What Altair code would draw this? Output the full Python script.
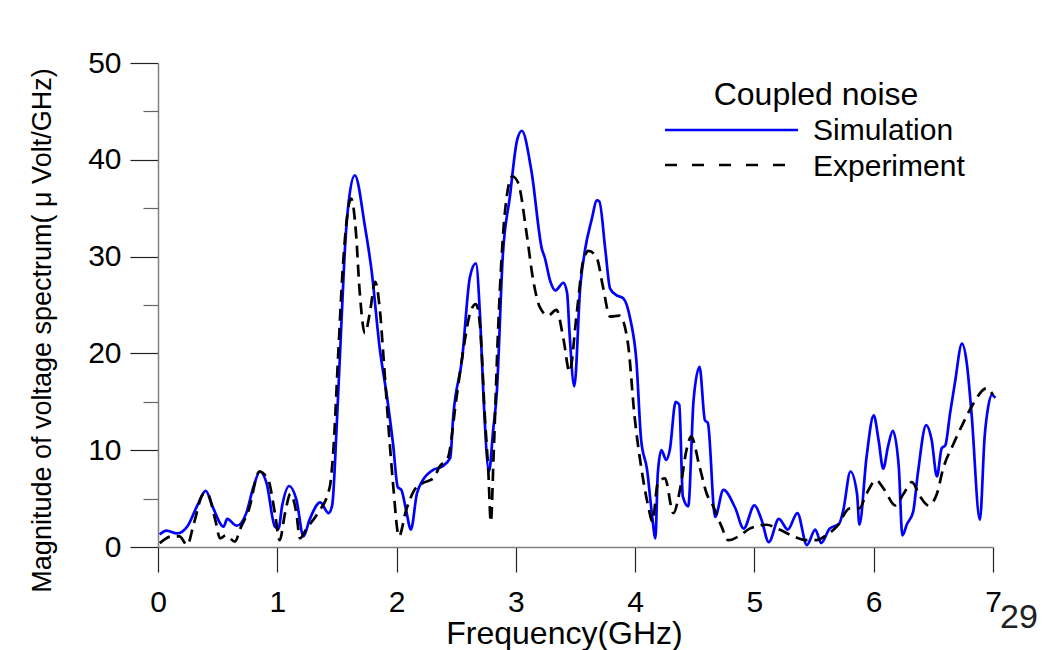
import altair as alt
import pandas as pd

FONT = "Liberation Sans"

# ---- data ----
sim_freq = [0.015, 0.07, 0.16, 0.25, 0.33, 0.40, 0.46, 0.55, 0.58, 0.66, 0.74, 0.80, 0.855, 0.91,
            0.98, 1.01, 1.04, 1.10, 1.16, 1.22, 1.27, 1.36, 1.43, 1.46, 1.50, 1.54, 1.57, 1.60,
            1.65, 1.735, 1.79, 1.86, 1.92, 1.97, 2.01, 2.04, 2.08, 2.12, 2.17, 2.22, 2.31, 2.38,
            2.45, 2.475, 2.55, 2.615, 2.665, 2.70, 2.73, 2.775, 2.81, 2.84, 2.89, 2.95, 3.01,
            3.05, 3.13, 3.22, 3.24, 3.29, 3.33, 3.40, 3.43, 3.45, 3.49, 3.54, 3.58, 3.635, 3.68,
            3.70, 3.75, 3.79, 3.845, 3.90, 3.96, 4.01, 4.05, 4.10, 4.14, 4.17, 4.19, 4.22, 4.26,
            4.29, 4.34, 4.37, 4.40, 4.445, 4.49, 4.54, 4.585, 4.61, 4.67, 4.74, 4.84, 4.91, 5.00,
            5.06, 5.12, 5.205, 5.28, 5.36, 5.44, 5.51, 5.56, 5.63, 5.71, 5.745, 5.805, 5.86, 5.88,
            5.94, 6.00, 6.04, 6.08, 6.12, 6.16, 6.21, 6.24, 6.28, 6.33, 6.37, 6.44, 6.485, 6.53,
            6.57, 6.60, 6.64, 6.68, 6.74, 6.78, 6.82, 6.89, 6.93, 6.96, 6.99, 7.02]
sim_mag = [1.3, 1.7, 1.4, 2.2, 4.3, 5.8, 4.1, 2.1, 2.9, 2.2, 3.5, 6.2, 7.8, 6.6,
           2.1, 1.9, 4.2, 6.3, 4.9, 1.1, 2.8, 4.6, 3.5, 4.3, 13.0, 23.8, 31.4, 35.8,
           38.4, 33.1, 28.6, 20.4, 15.5, 10.7, 6.2, 5.9, 3.8, 1.8, 5.5, 6.9, 8.0, 8.3,
           9.2, 13.5, 19.5, 27.9, 29.3, 23.8, 15.2, 7.8, 12.1, 15.9, 30.0, 36.2, 42.0,
           43.0, 38.9, 30.7, 30.0, 27.4, 26.5, 27.3, 26.2, 22.1, 16.6, 26.9, 30.7, 33.8, 35.8,
           35.7, 30.7, 26.7, 26.0, 25.7, 23.5, 19.3, 11.1, 8.0, 3.5, 0.9, 7.6, 10.0, 9.0,
           10.0, 15.0, 14.7, 5.2, 4.2, 15.2, 18.6, 13.1, 12.8, 3.1, 5.9, 4.0, 1.9, 4.3,
           2.8, 0.5, 2.9, 1.8, 3.5, 0.2, 1.8, 0.4, 1.9, 2.4, 3.8, 7.8, 5.5, 2.3,
           9.3, 13.6, 11.1, 8.1, 10.4, 12.0, 8.3, 1.2, 2.4, 3.6, 7.6, 12.6, 11.1, 7.3,
           10.2, 10.5, 13.8, 16.9, 21.0, 19.0, 13.8, 2.8, 11.4, 14.5, 15.7, 15.4]

exp_freq = [0.015, 0.115, 0.18, 0.245, 0.30, 0.38, 0.41, 0.48, 0.52, 0.57, 0.645, 0.69, 0.76,
            0.85, 0.925, 0.98, 1.02, 1.065, 1.11, 1.16, 1.19, 1.245, 1.34, 1.44, 1.47, 1.51,
            1.55, 1.62, 1.66, 1.69, 1.735, 1.78, 1.82, 1.86, 1.89, 1.93, 1.97, 2.02, 2.08,
            2.15, 2.22, 2.31, 2.36, 2.43, 2.50, 2.56, 2.615, 2.665, 2.70, 2.74, 2.77, 2.79,
            2.815, 2.85, 2.91, 2.97, 3.02, 3.09, 3.145, 3.20, 3.27, 3.34, 3.40, 3.45, 3.51,
            3.565, 3.61, 3.68, 3.73, 3.79, 3.87, 3.94, 3.995, 4.05, 4.11, 4.145, 4.19, 4.25,
            4.32, 4.38, 4.43, 4.47, 4.54, 4.60, 4.655, 4.725, 4.78, 4.88, 4.96, 5.10, 5.21,
            5.33, 5.44, 5.52, 5.60, 5.69, 5.80, 5.88, 5.94, 6.02, 6.09, 6.18, 6.25, 6.32,
            6.39, 6.46, 6.53, 6.58, 6.67, 6.75, 6.83, 6.945, 7.0]
exp_mag = [0.4, 1.1, 1.1, 0.2, 2.4, 5.5, 5.6, 2.8, 0.9, 1.2, 0.55, 1.9, 3.8,
           7.8, 6.9, 3.5, 0.7, 3.5, 5.5, 3.5, 0.9, 1.9, 3.5, 6.2, 10.0, 19.7,
           29.0, 36.0, 32.4, 26.5, 22.1, 24.5, 27.4, 24.5, 19.7, 12.8, 6.6, 1.1, 3.8,
           5.9, 6.6, 7.1, 8.3, 9.2, 15.2, 20.4, 24.1, 25.1, 22.8, 13.5, 7.6, 2.6,
           10.0, 22.1, 34.8, 38.3, 37.6, 32.4, 27.6, 24.8, 23.9, 24.5, 21.4, 18.1, 24.1,
           29.6, 30.6, 29.8, 26.9, 23.8, 23.9, 21.0, 13.5, 8.3, 4.2, 2.6, 6.6, 7.1,
           3.5, 6.2, 10.0, 11.4, 8.3, 5.5, 4.2, 2.1, 0.7, 1.2, 1.9, 2.3, 1.8,
           1.1, 0.7, 0.7, 1.2, 2.1, 4.0, 4.0, 5.5, 6.9, 5.9, 4.3, 5.5, 6.7,
           5.2, 4.3, 5.5, 8.0, 10.7, 12.8, 14.7, 16.4, 15.7]

x_ticks = [0, 1, 2, 3, 4, 5, 6, 7]
y_major = [0, 10, 20, 30, 40, 50]
y_minor = [5, 15, 25, 35, 45]

series_names = ["Simulation", "Experiment"]
legend_title = "Coupled noise"
x_title = "Frequency(GHz)"
y_title = "Magnitude of voltage spectrum( \u03bc Volt/GHz)"
page_number = "29"

sim_df = pd.DataFrame({"f": sim_freq, "v": sim_mag})
exp_df = pd.DataFrame({"f": exp_freq, "v": exp_mag})
one = pd.DataFrame({"k": [0]})

x_scale = alt.Scale(domain=[0, 7], nice=False, zero=False)
y_scale = alt.Scale(domain=[0, 50], nice=False)

x_axis = alt.Axis(values=x_ticks, title=x_title, titleFont=FONT, titleFontSize=32,
                  titleFontWeight="normal", titleColor="black", titleX=406, titleY=96,
                  titleAlign="center", titleBaseline="alphabetic",
                  labelFont=FONT, labelFontSize=30, labelColor="black", labelPadding=39,
                  labelBaseline="alphabetic", labelFlush=False,
                  tickSize=25, tickColor="#222222", tickWidth=1.2,
                  domainColor="#808080", domainWidth=1.5, grid=False)

y_axis_major = alt.Axis(values=y_major, orient="left", title=y_title, titleFont=FONT,
                        titleFontSize=27, titleFontWeight="normal", titleColor="black",
                        titleX=-102, titleY=267, titleAngle=270, titleAlign="center",
                        titleBaseline="bottom",
                        labelFont=FONT, labelFontSize=30, labelColor="black", labelPadding=9,
                        labelFlush=False, tickSize=28, tickColor="#222222", tickWidth=1.2,
                        domainColor="#808080", domainWidth=1.5, grid=False)

y_axis_minor = alt.Axis(values=y_minor, orient="left", title=None, labels=False,
                        tickSize=15, tickColor="#666666", tickWidth=1.2, domain=False,
                        grid=False)

sim_line = alt.Chart(sim_df).mark_line(color="#0000FF", strokeWidth=2.7,
                                       interpolate="monotone").encode(
    x=alt.X("f:Q", scale=x_scale, axis=x_axis),
    y=alt.Y("v:Q", scale=y_scale, axis=y_axis_major),
)

exp_line = alt.Chart(exp_df).mark_line(color="black", strokeWidth=2.7, strokeDash=[12, 7],
                                       interpolate="monotone").encode(
    x=alt.X("f:Q", scale=x_scale, axis=x_axis),
    y=alt.Y("v:Q", scale=y_scale, axis=y_axis_minor),
)

leg_title = alt.Chart(one).mark_text(text=legend_title, font=FONT, fontSize=32, align="center",
                                     baseline="alphabetic", color="black").encode(
    x=alt.value(658), y=alt.value(42))
leg_sim_line = alt.Chart(one).mark_rule(color="#0000FF", strokeWidth=2.7).encode(
    x=alt.value(507), x2=alt.value(640), y=alt.value(67))
leg_exp_line = alt.Chart(one).mark_rule(color="black", strokeWidth=2.7,
                                        strokeDash=[12, 15]).encode(
    x=alt.value(507), x2=alt.value(640), y=alt.value(102))
leg_sim_text = alt.Chart(one).mark_text(text=series_names[0], font=FONT, fontSize=30,
                                        align="left", baseline="alphabetic",
                                        color="black").encode(
    x=alt.value(655), y=alt.value(77))
leg_exp_text = alt.Chart(one).mark_text(text=series_names[1], font=FONT, fontSize=30,
                                        align="left", baseline="alphabetic",
                                        color="black").encode(
    x=alt.value(655), y=alt.value(113))
page_text = alt.Chart(one).mark_text(text=page_number, font=FONT, fontSize=34,
                                     align="center", baseline="alphabetic",
                                     color="#222222").encode(
    x=alt.value(861), y=alt.value(565))

chart = alt.layer(
    sim_line, exp_line, leg_title, leg_sim_line, leg_exp_line, leg_sim_text, leg_exp_text,
    page_text
).resolve_axis(y="independent").properties(
    width=835, height=484,
    padding={"left": 150, "top": 55, "right": 45, "bottom": 103},
    autosize=alt.AutoSizeParams(type="none"),
    background="white",
).configure_view(stroke=None)

chart.save("out.html", embed_options={"renderer": "svg", "actions": False})
